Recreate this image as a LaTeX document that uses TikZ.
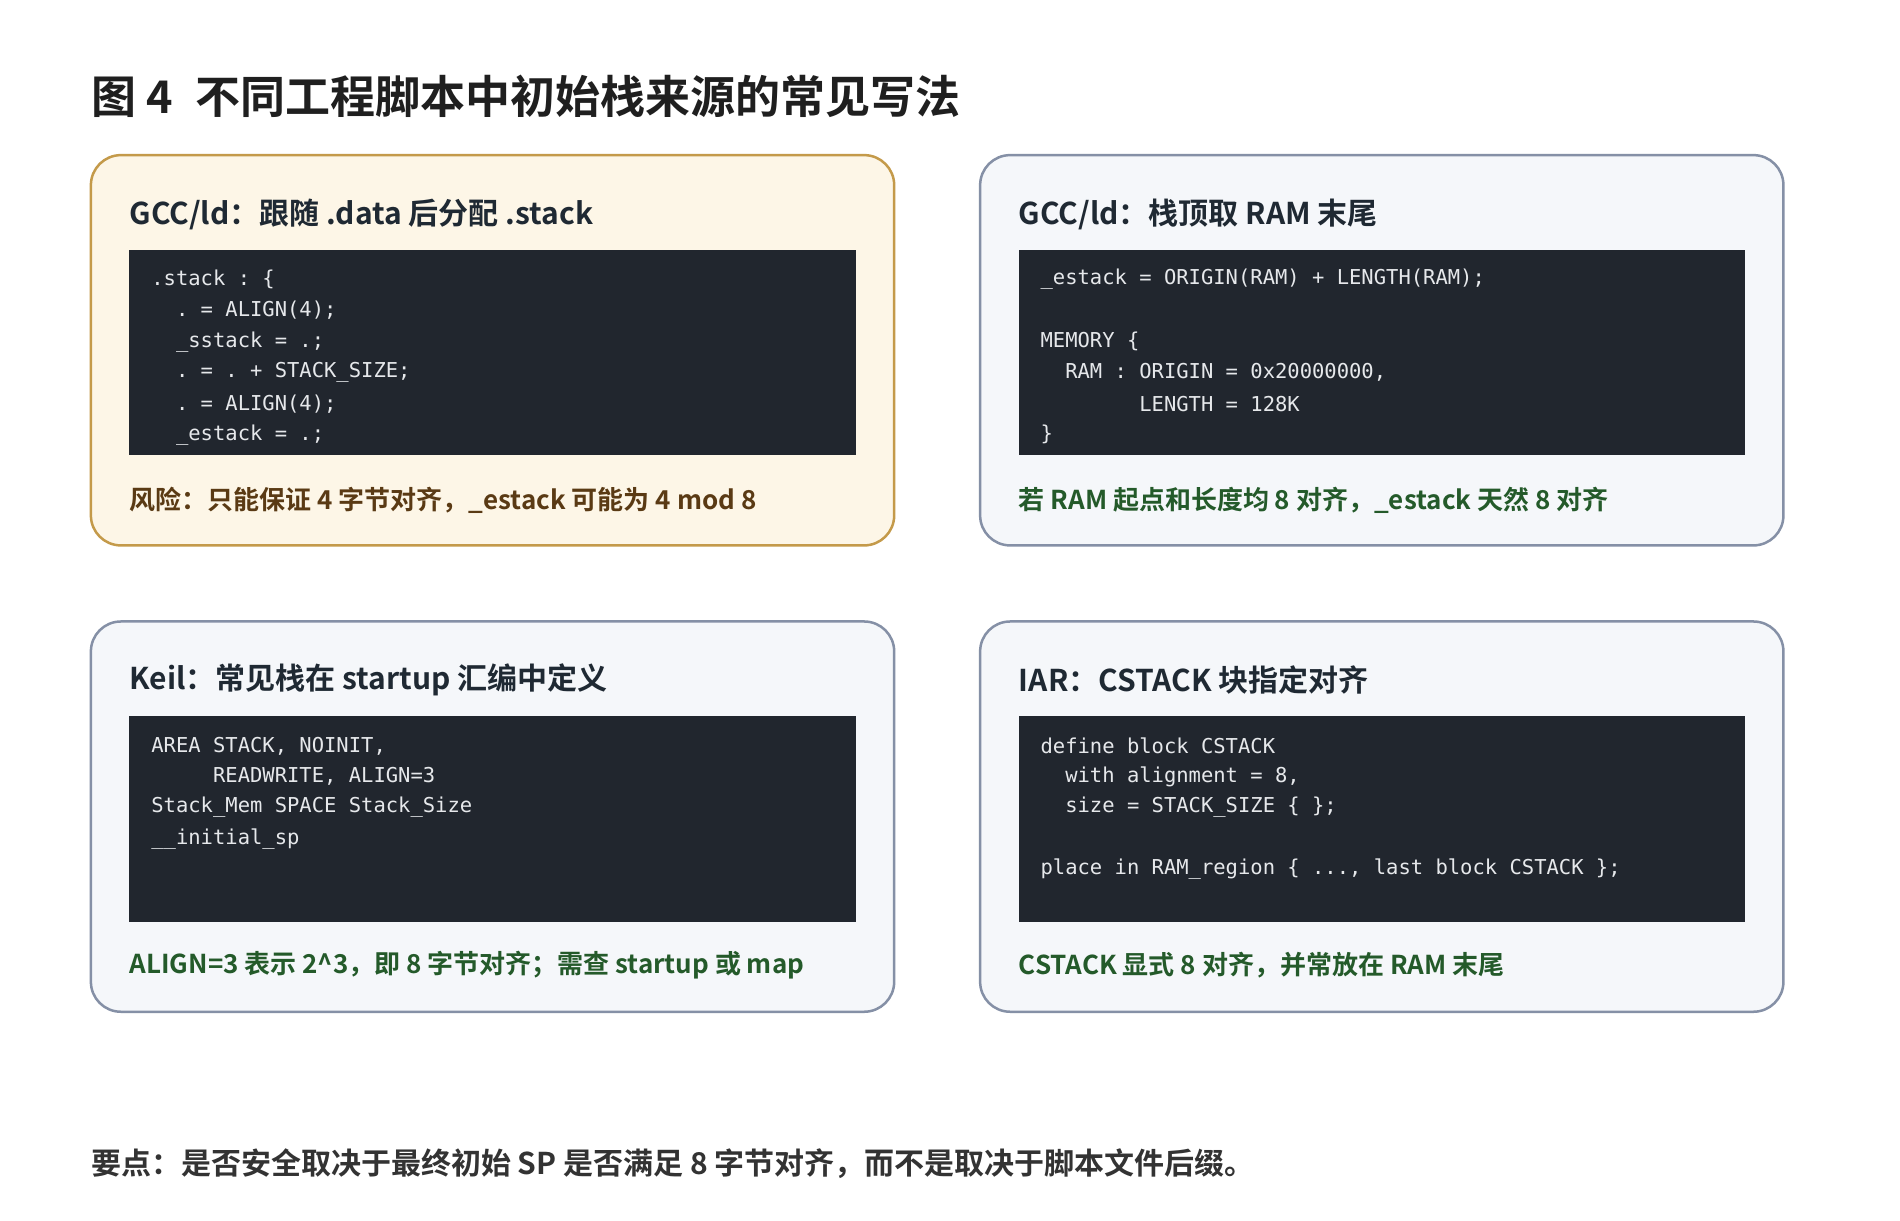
\documentclass[tikz,border=0pt]{standalone}
\usepackage{fontspec}
\setmainfont{Noto Sans CJK SC}[BoldFont={Noto Sans CJK SC Bold}]
\setmonofont{DejaVu Sans Mono}
\definecolor{warmfill}{HTML}{FDF6E7}
\definecolor{warmline}{HTML}{C49A4A}
\definecolor{coolfill}{HTML}{F5F7FA}
\definecolor{coolline}{HTML}{8590A6}
\definecolor{codebg}{HTML}{21262E}
\definecolor{codefg}{HTML}{E6E8EB}
\definecolor{headfg}{HTML}{1F2933}
\definecolor{brownfg}{HTML}{5A3A14}
\definecolor{greenfg}{HTML}{245A2A}
\begin{document}
\begin{tikzpicture}[x=0.988pt,y=-0.988pt,
  card/.style={rounded corners=30pt,line width=2.5pt},
  warm/.style={card,draw=warmline,fill=warmfill},
  cool/.style={card,draw=coolline,fill=coolfill},
  codebox/.style={fill=codebg},
  head/.style={anchor=west,inner sep=0,font=\bfseries\fontsize{30}{33}\selectfont,text=headfg},
  foot/.style={anchor=west,inner sep=0,font=\bfseries\fontsize{26}{30}\selectfont},
  code/.style={anchor=west,inner sep=0,font=\ttfamily\fontsize{20.5}{24}\selectfont,text=codefg}]
\useasboundingbox (0,0) rectangle (1923,1235);
\fill[white] (0,0) rectangle (1923,1235);
\node[anchor=west,inner sep=0,font=\bfseries\fontsize{45}{50}\selectfont,text=black!88] (title) at (92,98) {图 4\hspace{0.5em}不同工程脚本中初始栈来源的常见写法};
% cards
\foreach \n/\x/\y/\s in {A/92/157/warm,B/992/157/cool,C/92/629/cool,D/992/629/cool}{
  \draw[\s] (\x,\y) rectangle ++(813,395);
  \fill[codebox] (\x+39,\y+96) rectangle ++(735,208);
}
% card A
\node[head] (hA) at (131,217) {GCC/ld：跟随 .data 后分配 .stack};
\foreach \t [count=\i from 0] in {.stack : \{,{\ \ . = ALIGN(4);},{\ \ \_sstack = .;},{\ \ . = . + STACK\_SIZE;},{\ \ . = ALIGN(4);},{\ \ \_estack = .;}}
  \node[code] (cA\i) at (153,283+31.4*\i) {\t};
\node[foot,text=brownfg] (fA) at (131,506) {风险：只能保证 4 字节对齐，\_estack 可能为 4 mod 8};
% card B
\node[head] (hB) at (1031,217) {GCC/ld：栈顶取 RAM 末尾};
\node[code] (cB0) at (1053,283) {\_estack = ORIGIN(RAM) + LENGTH(RAM);};
\node[code] (cB2) at (1053,346) {MEMORY \{};
\node[code] (cB3) at (1053,377) {\ \ RAM : ORIGIN = 0x20000000,};
\node[code] (cB4) at (1053,409) {\ \ \ \ \ \ \ \ LENGTH = 128K};
\node[code] (cB5) at (1053,440) {\}};
\node[foot,text=greenfg] (fB) at (1031,506) {若 RAM 起点和长度均 8 对齐，\_estack 天然 8 对齐};
% card C
\node[head] (hC) at (131,688) {Keil：常见栈在 startup 汇编中定义};
\node[code] (cC0) at (153,755) {AREA STACK, NOINIT,};
\node[code] (cC1) at (153,786) {\ \ \ \ \ READWRITE, ALIGN=3};
\node[code] (cC2) at (153,817) {Stack\_Mem SPACE Stack\_Size};
\node[code] (cC3) at (153,849) {\_\_initial\_sp};
\node[foot,text=greenfg] (fC) at (131,977) {ALIGN=3 表示 2\^{}3，即 8 字节对齐；需查 startup 或 map};
% card D
\node[head] (hD) at (1031,688) {IAR：CSTACK 块指定对齐};
\node[code] (cD0) at (1053,755) {define block CSTACK};
\node[code] (cD1) at (1053,786) {\ \ with alignment = 8,};
\node[code] (cD2) at (1053,817) {\ \ size = STACK\_SIZE \{ \};};
\node[code] (cD4) at (1053,880) {place in RAM\_region \{ ..., last block CSTACK \};};
\node[foot,text=greenfg] (fD) at (1031,977) {CSTACK 显式 8 对齐，并常放在 RAM 末尾};
% note
\node[foot,text=black!80,font=\bfseries\fontsize{30}{34}\selectfont] (note) at (92,1178) {要点：是否安全取决于最终初始 SP 是否满足 8 字节对齐，而不是取决于脚本文件后缀。};
\end{tikzpicture}
\end{document}
